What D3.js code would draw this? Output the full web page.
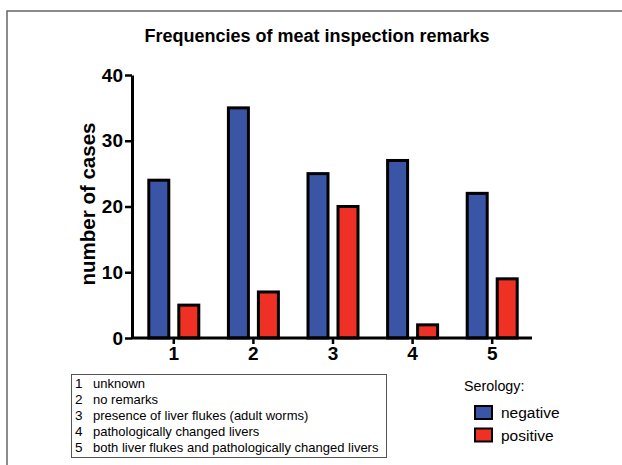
<!DOCTYPE html>
<html>
<head>
<meta charset="utf-8">
<script src="https://cdn.jsdelivr.net/npm/d3@7"></script>
<style>
    body { margin: 0; background: #fff; }
    svg { display: block; font-family: Arial, "Liberation Sans", sans-serif; }
</style>
</head>
<body>
<div class="chart"></div>
<script>
// data
const categories = ["1", "2", "3", "4", "5"];
const negative = [24, 35, 25, 27, 22];
const positive = [5, 7, 20, 2, 9];
const yTicks = [0, 10, 20, 30, 40];
const remarks = [
    "unknown",
    "no remarks",
    "presence of liver flukes (adult worms)",
    "pathologically changed livers",
    "both liver flukes and pathologically changed livers"
];
const seriesNames = ["negative", "positive"];
const seriesColors = ["#3a55a5", "#ee3124"];

const width = 622, height = 465;

const svg = d3.select(".chart")
    .append("svg")
    .attr("width", width)
    .attr("height", height);

// frame round the figure
svg.append("rect")
    .attr("x", 7)
    .attr("y", 11)
    .attr("width", 700)
    .attr("height", 600)
    .attr("fill", "none")
    .attr("stroke", "#666")
    .attr("stroke-width", 1.5);

const x = d3.scaleBand()
    .domain(categories)
    .range([134, 532]);

const y = d3.scaleLinear()
    .domain([0, 40])
    .range([338, 75]);

// bars
const offsets = [-25, 5];
const barW = 20;
[negative, positive].forEach((vals, s) => {
    svg.append("g").selectAll("rect")
        .data(vals).enter()
        .append("rect")
        .attr("x", (d, i) => x(categories[i]) + x.bandwidth() / 2 + offsets[s])
        .attr("y", d => y(d))
        .attr("width", barW)
        .attr("height", d => y(0) - y(d))
        .attr("fill", seriesColors[s])
        .attr("stroke", "#000")
        .attr("stroke-width", 3);
});

// axes
const yAxis = svg.append("g")
    .attr("transform", "translate(132,0)")
    .call(d3.axisLeft(y).tickValues(yTicks).tickSize(7).tickSizeOuter(0).tickPadding(2));
const xAxis = svg.append("g")
    .attr("transform", "translate(0,338)")
    .call(d3.axisBottom(x).tickSize(6).tickSizeOuter(0).tickPadding(3));
[yAxis, xAxis].forEach(a => {
    a.select(".domain").attr("stroke-width", 3);
    a.selectAll(".tick line").attr("stroke-width", 2.5);
    a.selectAll("text")
        .style("font-family", "Arial, 'Liberation Sans', sans-serif")
        .style("font-size", "19px")
        .style("font-weight", "bold")
        .attr("fill", "#000");
});
xAxis.select(".domain").attr("d", "M132,0H532");

// title and axis label
svg.append("text")
    .attr("x", 317)
    .attr("y", 42)
    .attr("text-anchor", "middle")
    .style("font-size", "18px")
    .style("font-weight", "bold")
    .text("Frequencies of meat inspection remarks");

svg.append("text")
    .attr("transform", "translate(95,204) rotate(-90)")
    .attr("text-anchor", "middle")
    .style("font-size", "20.5px")
    .style("font-weight", "bold")
    .text("number of cases");

// category legend box
const box = svg.append("g");
box.append("rect")
    .attr("x", 71.5)
    .attr("y", 374.5)
    .attr("width", 315)
    .attr("height", 83)
    .attr("fill", "none")
    .attr("stroke", "#555")
    .attr("stroke-width", 1);
box.selectAll(".num")
    .data(categories).enter()
    .append("text")
    .attr("x", 75)
    .attr("y", (d, i) => 388 + i * 16)
    .style("font-size", "13.5px")
    .text(d => d);
box.selectAll(".remark")
    .data(remarks).enter()
    .append("text")
    .attr("x", 93)
    .attr("y", (d, i) => 388 + i * 16)
    .style("font-size", "13px")
    .text(d => d);

// serology legend
const leg = svg.append("g");
leg.append("text")
    .attr("x", 464)
    .attr("y", 391)
    .style("font-size", "14.3px")
    .text("Serology:");
leg.selectAll("rect")
    .data(seriesNames).enter()
    .append("rect")
    .attr("x", 475)
    .attr("y", (d, i) => 406 + i * 22.5)
    .attr("width", 17)
    .attr("height", 13)
    .attr("fill", (d, i) => seriesColors[i])
    .attr("stroke", "#000")
    .attr("stroke-width", 2);
leg.selectAll(".lab")
    .data(seriesNames).enter()
    .append("text")
    .attr("x", 501)
    .attr("y", (d, i) => 418 + i * 22.5)
    .style("font-size", "15.5px")
    .text(d => d);
</script>
</body>
</html>
